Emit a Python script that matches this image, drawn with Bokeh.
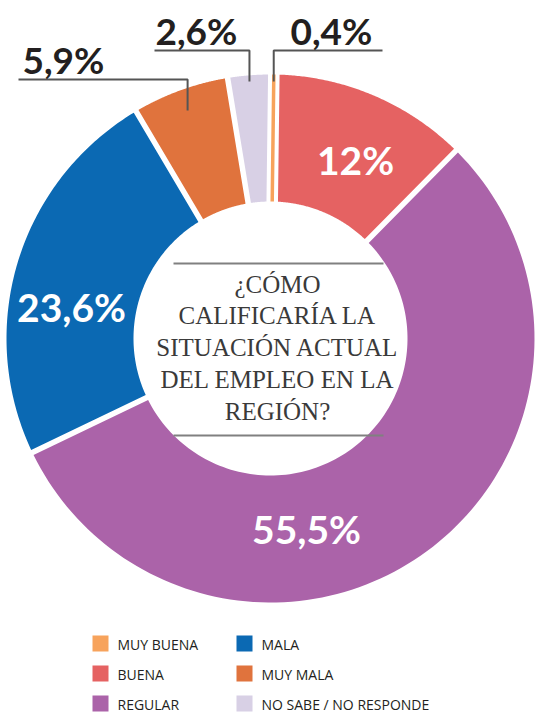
import numpy as np
from bokeh.plotting import figure
from bokeh.models import Range1d
from bokeh.core.properties import value
from bokeh.embed import file_html
from bokeh.resources import INLINE

# ---------------- data ----------------
categories = ["MUY BUENA", "BUENA", "REGULAR", "MALA", "MUY MALA", "NO SABE / NO RESPONDE"]
values = [0.4, 12.0, 55.5, 23.6, 5.9, 2.6]
labels = ["0,4%", "12%", "55,5%", "23,6%", "5,9%", "2,6%"]
colors = ["#f7a35c", "#e56262", "#ab63a9", "#0b69b3", "#e0733d", "#d8d0e5"]
question = ["¿CÓMO", "CALIFICARÍA LA", "SITUACIÓN ACTUAL", "DEL EMPLEO EN LA", "REGIÓN?"]

# ---------------- layout ----------------
W, H = 535, 714
def sx(X): return X
def sy(Y): return H - Y
def base(Y, fs):  # baseline correction for rendered text
    return sy(Y - 0.38 * fs)

CX, CY = sx(270), sy(338)
R_OUT, R_IN = 264, 137
GAP = 5.5
GAP_SMALL = 4.0
MIN_W = 3.5

p = figure(width=W, height=H, output_backend="svg", toolbar_location=None,
           x_range=Range1d(0, W), y_range=Range1d(0, H),
           x_axis_location=None, y_axis_location=None, min_border=0)
p.grid.visible = False
p.outline_line_color = None
p.background_fill_color = "white"
p.border_fill_color = "white"

# angles (clockwise from top)
vals = np.array(values)
bounds = np.concatenate([[0], np.cumsum(vals)]) / vals.sum() * 2 * np.pi
n = len(vals)
starts = [(bounds[i], GAP / 2) for i in range(n)]
ends = [(bounds[i + 1], -GAP / 2) for i in range(n)]
for i in range(n):
    if vals[i] < 1.0:
        m = 0.5 * (bounds[i] + bounds[i + 1])
        starts[i] = (m, -MIN_W / 2)
        ends[i] = (m, MIN_W / 2)
        j = (i - 1) % n
        k = (i + 1) % n
        ends[j] = (m + (2 * np.pi if j > i else 0), -MIN_W / 2 - GAP_SMALL)
        starts[k] = (m, MIN_W / 2 + GAP_SMALL)

xs, ys = [], []
for i in range(n):
    a0, d0 = starts[i]
    a1, d1 = ends[i]
    t_out = np.linspace(a0 + np.arcsin(d0 / R_OUT), a1 + np.arcsin(d1 / R_OUT), 120)
    t_in = np.linspace(a1 + np.arcsin(d1 / R_IN), a0 + np.arcsin(d0 / R_IN), 120)
    px = np.concatenate([CX + R_OUT * np.sin(t_out), CX + R_IN * np.sin(t_in)])
    py = np.concatenate([CY + R_OUT * np.cos(t_out), CY + R_IN * np.cos(t_in)])
    xs.append(list(px))
    ys.append(list(py))
p.patches(xs, ys, fill_color=colors, line_color=None)

# inside labels
FS_IN = 39
inside = {1: (355, 174), 2: (306, 543), 3: (71, 321)}
p.text([sx(inside[i][0]) for i in inside], [base(inside[i][1], FS_IN) for i in inside],
       text=[labels[i] for i in inside], text_color="white",
       text_font=value("Lato"), text_font_style="bold", text_font_size=f"{FS_IN}px",
       text_align="center", text_baseline="alphabetic")

# outside labels with leaders: (text left X, baseline Y, line Y, end Y of leader, line far X)
FS_OUT = 37
outside = {0: (290, 44, 50, 81, 382), 5: (155, 44, 50, 81, 154), 4: (22, 73, 79, 110, 18)}
for i, (tx, tb, ly, ey, fx) in outside.items():
    m = 0.5 * (bounds[i] + bounds[i + 1])
    lx = CX + (sy(ey) - CY) * np.tan(m)
    p.line([sx(fx), lx, lx], [sy(ly), sy(ly), sy(ey)], line_color="#555555", line_width=2)
    p.text([sx(tx)], [base(tb, FS_OUT)], text=[labels[i]], text_color="#231f20",
           text_font=value("Lato"), text_font_style="bold", text_font_size=f"{FS_OUT}px",
           text_align="left", text_baseline="alphabetic")

# centre question
FS_Q = 25
qx = sx(277)
base0, step = 293, 31.8
p.text([qx] * len(question), [base(base0 + k * step, FS_Q) for k in range(len(question))],
       text=question, text_color="#3a3a3a", text_font=value("Liberation Serif"),
       text_font_size=f"{FS_Q}px", text_align="center", text_baseline="alphabetic")
p.segment([sx(173), sx(173)], [sy(263), sy(435)], [sx(383), sx(383)], [sy(263), sy(435)],
          line_color="#808080", line_width=2)

# legend
FS_L = 14
col_x = [100, 244]
row_y = [643, 673, 703]
lx_sq, ly_sq, tx_l, ty_l = [], [], [], []
for idx in range(n):
    c, r = divmod(idx, 3)
    lx_sq.append(sx(col_x[c]))
    ly_sq.append(sy(row_y[r]))
    tx_l.append(sx(col_x[c] + 17))
    ty_l.append(base(row_y[r] + 6, FS_L))
p.rect(lx_sq, ly_sq, width=16, height=16, fill_color=colors, line_color=None)
p.text(tx_l, ty_l, text=categories, text_color="#231f20", text_font=value("Open Sans"),
       text_font_size=f"{FS_L}px", text_align="left", text_baseline="alphabetic")

open("out.html", "w").write(file_html(p, INLINE))
